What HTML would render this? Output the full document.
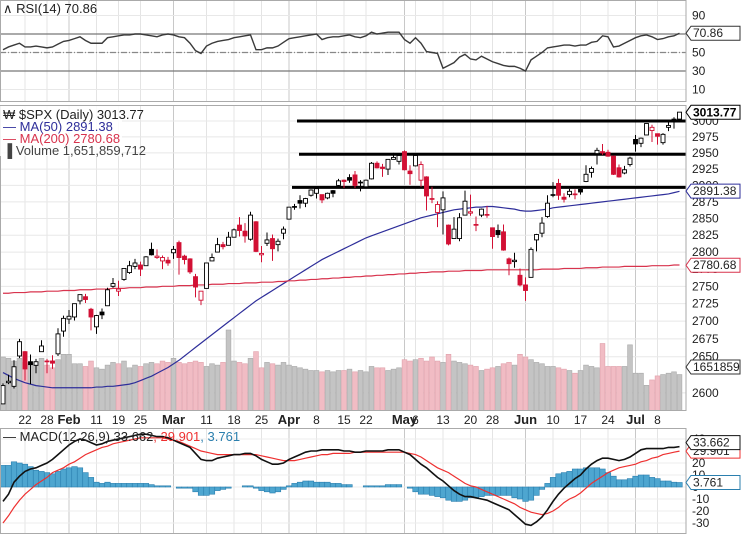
<!DOCTYPE html>
<html><head><meta charset="utf-8">
<style>
html,body{margin:0;padding:0;background:#fff;}
svg{display:block;font-family:"Liberation Sans",sans-serif;}
</style></head>
<body>
<svg id="chart" width="742" height="534" viewBox="0 0 742 534" xmlns="http://www.w3.org/2000/svg">
<defs>
<clipPath id="cRsi"><rect x="0" y="0" width="686" height="102"/></clipPath>
<clipPath id="cPx"><rect x="0" y="105" width="686" height="306"/></clipPath>
<clipPath id="cMacd"><rect x="0" y="428" width="686" height="106"/></clipPath>
</defs>
<rect x="0" y="0" width="742" height="534" fill="#fff"/>
<g id="grid"></g>
<g id="vol" clip-path="url(#cPx)"></g>
<g id="ma" clip-path="url(#cPx)"></g>
<g id="hlines"></g>
<g id="candles" clip-path="url(#cPx)"></g>
<g id="rsi" clip-path="url(#cRsi)"></g>
<g id="macd" clip-path="url(#cMacd)"></g>
<g id="axes"></g>
<g id="labels"></g>
</svg>
<script>
// ---- data ----
const opens = [2585,2614,2609,2651,2657,2643,2638,2657,2644,2644,2654,2686,
2703,2706,2729,2735,2717,2692,2713,2722,2750,2743,2760,2770,2779,2781,2780,2804,2792,2787,2788,
2799,2814,2794,2790,2764,2730,2747,2787,2800,2811,2810,2822,2840,2831,2819,2845,2796,2813,2820,2811,2828,
2849,2868,2877,2873,2885,2888,2886,2881,2892,2900,2908,2912,2916,2905,2898,2910,2934,2928,2925,2940,2937,
2952,2922,2930,2908,2913,2880,2859,2863,2840,2820,2820,2855,2858,2841,2855,2856,2836,2832,2830,2790,2786,2766,
2752,2763,2818,2828,2853,2886,2903,2882,2886,2887,2894,2906,2920,2949,2952,2951,2945,2927,2919,2932,
2971,2965,2978,2985,2980,2966,2990,3003,3003];
const highs = [2613,2625,2645,2675,2658,2653,2647,2673,2647,2652,2690,2708,
2716,2725,2738,2739,2719,2709,2718,2748,2762,2758,2776,2787,2790,2786,2794,2814,2804,2795,2793,
2809,2817,2796,2791,2768,2742,2784,2798,2821,2815,2830,2835,2852,2843,2860,2846,2809,2829,2826,2820,2838,
2867,2872,2885,2881,2894,2895,2886,2889,2893,2910,2909,2917,2922,2908,2909,2936,2937,2933,2940,2950,2949,
2954,2931,2948,2937,2914,2898,2876,2891,2841,2852,2858,2892,2886,2853,2865,2869,2836,2841,2841,2792,2799,2776,
2763,2807,2827,2852,2885,2905,2910,2888,2895,2894,2898,2931,2929,2958,2964,2955,2946,2932,2930,2944,
2978,2974,2996,2994,2980,2981,3002,3006,3014];
const lows = [2585,2612,2606,2648,2617,2612,2627,2657,2627,2633,2651,2678,
2696,2701,2724,2726,2687,2682,2703,2722,2748,2736,2758,2768,2775,2765,2780,2795,2790,2775,2780,
2790,2767,2782,2768,2734,2723,2747,2787,2800,2804,2810,2822,2823,2814,2817,2800,2785,2809,2787,2801,2819,
2849,2863,2865,2867,2883,2880,2873,2879,2882,2898,2896,2904,2896,2891,2896,2909,2926,2913,2916,2940,2932,
2923,2901,2929,2898,2862,2873,2837,2826,2810,2820,2816,2855,2854,2831,2852,2851,2805,2821,2802,2766,2777,2750,
2729,2763,2801,2822,2851,2882,2878,2874,2882,2879,2886,2905,2912,2932,2947,2944,2916,2912,2917,2929,
2952,2959,2978,2967,2963,2963,2984,2988,3001];
const closes = [2610,2616,2636,2671,2633,2639,2643,2665,2644,2641,2682,2704,
2707,2725,2738,2731,2706,2708,2709,2745,2754,2746,2776,2780,2784,2775,2793,2796,2794,2792,2784,
2804,2792,2789,2771,2749,2743,2784,2792,2811,2808,2822,2833,2832,2824,2855,2801,2798,2818,2805,2816,2834,
2867,2867,2873,2880,2893,2895,2878,2888,2888,2907,2906,2908,2900,2905,2908,2934,2927,2926,2940,2943,2946,
2924,2918,2946,2932,2884,2880,2871,2881,2812,2834,2851,2876,2860,2840,2864,2856,2823,2826,2803,2783,2788,2752,
2744,2804,2826,2843,2873,2886,2885,2879,2891,2887,2890,2917,2926,2954,2950,2945,2917,2913,2924,2942,
2964,2973,2996,2990,2976,2979,2993,2999,3014];
const volumes = [4000,3900,3700,3900,3600,3500,3400,3900,3400,3200,3800,4200,
4200,3500,3500,3300,3700,3200,3100,3400,3600,3500,3700,3200,3400,3300,3500,3600,3500,3700,3600,
3900,3600,3500,3600,3700,3600,3300,3500,3400,3600,6000,3700,3600,3500,3900,4400,3200,3600,3500,3400,3600,
3400,3300,3200,3100,3000,3000,2900,3000,2900,3000,3000,3100,2900,3000,2900,3300,3200,3200,3000,3100,3200,
3800,3700,3800,3900,3700,4000,3700,3600,4200,3700,3600,3500,3400,3300,3000,3100,3200,3300,3500,3600,3400,4200,
4000,3800,3600,3500,3300,3300,3200,3100,3000,2800,3000,3400,3300,3200,5000,3300,3300,3300,3300,4900,
2800,2800,1900,2300,2600,2700,2800,2900,2700];
const ma50 = [2628,2624,2620,2617,2614,2612,2610,2609,2608,2607,
2607,2607,2607,2607,2607,2607,2607,2608,2608,2609,
2609,2610,2611,2612,2614,2617,2620,2623,2627,2631,
2635,2640,2645,2651,2657,2663,2669,2675,2681,2687,
2693,2699,2705,2711,2717,2723,2729,2734,2739,2744,
2749,2754,2759,2764,2769,2774,2779,2784,2789,2793,
2797,2801,2805,2809,2813,2817,2821,2824,2827,2830,
2833,2836,2839,2842,2845,2848,2851,2853,2855,2857,
2859,2861,2863,2864,2865,2866,2867,2867,2868,2868,
2867,2866,2865,2864,2862,2861,2861,2862,2863,2864,
2866,2867,2868,2869,2870,2871,2872,2873,2874,2875,
2876,2877,2878,2879,2880,2881,2882,2883,2884,2885,
2886,2887,2889,2891];
const ma200 = [2740,2740,2741,2741,2741,2742,2742,2742,2743,2743,2743,2744,
2744,2744,2745,2745,2745,2746,2746,2746,2747,2747,2747,2748,2748,2748,2749,2749,2749,2750,2750,
2750,2751,2751,2751,2752,2752,2752,2753,2753,2753,2754,2754,2754,2755,2755,2755,2756,2756,2756,2757,2757,
2758,2758,2759,2759,2760,2760,2761,2761,2762,2762,2763,2763,2764,2764,2765,2765,2766,2766,2767,2767,2768,
2768,2769,2769,2770,2770,2771,2771,2771,2772,2772,2772,2773,2773,2773,2773,2774,2774,2774,2774,2774,2774,2774,
2774,2774,2774,2775,2775,2775,2775,2776,2776,2776,2776,2777,2777,2777,2778,2778,2778,2778,2779,2779,
2779,2779,2779,2780,2780,2780,2780,2781,2781];
const rsiVals = [53,56,58,60,56,56,57,56,55,56,
59,62,63,65,67,63,60,60,60,66,
67,68,69,69,70,70,69,68,67,69,
70,69,67,66,60,52,49,57,60,62,
63,64,66,67,68,69,53,53,55,55,
57,61,65,66,67,68,69,70,64,66,
67,67,68,69,67,66,68,72,70,71,
72,72,72,64,60,66,60,51,50,49,
33,36,39,45,48,43,42,46,43,40,
38,36,35,35,33,30,42,46,50,55,
56,57,58,58,57,58,58,61,62,68,
67,56,57,60,63,66,68,69,67,64,
65,67,68,70.86];
const macdVals = [-12,-6,4,9,13,15,16,18,20,23,
27,31,35,38,40,39,37,35,36,38,
39,40,41,42,43,44,44,43,42,42,
41,39,37,35,33,28,23,22,22,24,
25,26,27,27,28,28,26,23,21,19,
19,20,23,25,27,29,30,30,31,31,
31,31,30,30,29,29,30,30,30,30,
31,31,31,29,27,23,19,16,12,8,
5,1,-3,-6,-8,-8,-9,-10,-11,-13,
-15,-17,-19,-23,-27,-31,-32,-29,-25,-19,
-12,-6,-1,3,7,10,15,19,22,24,
24,23,22,23,25,28,31,32,32,32,
32,33,33,33.662];
const signalVals = [-30,-24,-17,-11,-6,-2,2,5,8,12,
14,16,19,21,24,27,29,31,33,34,
36,37,38,39,40,41,41,41,41,41,
40,39,38,36,34,32,30,29,28,27,
27,27,27,27,27,27,27,26,25,24,
23,22,22,22,23,24,25,26,27,27,
28,28,28,28,29,29,29,29,29,29,
29,29,29,29,28,27,25,22,19,16,
14,12,9,6,3,1,0,-2,-4,-6,
-8,-10,-12,-14,-17,-19,-21,-22,-23,-22,
-20,-17,-13,-10,-8,-5,-1,3,6,9,
12,14,16,17,18,19,21,22,24,25,
27,28,29,29.901];
const tickIdx = [4,8,12,17,21,25,31,37,42,47,52,57,62,66,73,75,80,85,89,95,100,105,110,115,119];
const tickLabels = ["22","28","Feb","11","19","25","Mar","11","18","25","Apr","8","15","22","May","6","13","20","28","Jun","10","17","24","Jul","8"];
const priceTicks = [3000,2975,2950,2925,2900,2875,2850,2825,2800,2775,2750,2725,2700,2675,2650,2600];
const rsiTicks = [90,70,50,30,10];
const macdTicks = [40,20,10,0,-10,-20,-30];
const resistance = [3000,2948,2897];

// ---- scales ----
const NS = "http://www.w3.org/2000/svg";
const PR = 686;
const xOf = i => 3 + i * 5.5;
const yP = p => 121 + 1900 * Math.log(3000 / p);
const yR = v => 34 + (70 - v) * 0.925;
const yM = v => 487 - v * 1.2;
const yV = v => 411 - v * 0.0135;
function mk(tag, attrs, parent) {
  const e = document.createElementNS(NS, tag);
  for (const k in attrs) e.setAttribute(k, attrs[k]);
  if (parent) parent.appendChild(e);
  return e;
}
const G = id => document.getElementById(id);

// ---- grid ----
const grid = G('grid');
[[0,102],[105,411],[428,534]].forEach(([a,b]) => {
  tickIdx.forEach((ti, k) => {
    const month = isNaN(+tickLabels[k]);
    const l = mk('line', {x1: xOf(ti), x2: xOf(ti), y1: a, y2: b, stroke: month ? '#c8c8c8' : '#e4e4e4', 'stroke-width': 1}, grid);
    
    
  });
});
priceTicks.forEach(p => {
  const l = mk('line', {x1: 0, x2: PR, y1: yP(p), y2: yP(p), stroke: '#e8e8e8'}, grid);
  
  
});
rsiTicks.forEach(v => {
  const l = mk('line', {x1: 0, x2: PR, y1: yR(v), y2: yR(v), stroke: '#e8e8e8'}, grid);
  
  
});
macdTicks.forEach(v => {
  const l = mk('line', {x1: 0, x2: PR, y1: yM(v), y2: yM(v), stroke: '#ececec'}, grid);
  
  
});

// ---- volume ----
const vol = G('vol');
volumes.forEach((v, i) => {
  const down = i > 0 && closes[i] < closes[i-1];
  const r = mk('rect', {x: xOf(i) - 2.4, y: yV(v), width: 4.8, height: 411 - yV(v), fill: down ? '#f1bcc4' : '#c4c4c4', stroke: down ? '#e0a0aa' : '#a8a8a8', 'stroke-width': 0.6}, vol);
  
  
});

// ---- moving averages ----
const ma = G('ma');
const m50 = mk('polyline', {points: ma50.map((v,i)=>xOf(i)+','+yP(v)).join(' '), fill: 'none', stroke: '#2e2e9a', 'stroke-width': 1.2}, ma);


const m200 = mk('polyline', {points: ma200.map((v,i)=>xOf(i)+','+yP(v)).join(' '), fill: 'none', stroke: '#d8334d', 'stroke-width': 1.2}, ma);



// ---- resistance lines ----
const hl = G('hlines');
[[297],[299],[292]].forEach((s, k) => {
  const l = mk('line', {x1: s[0], x2: PR, y1: yP(resistance[k]), y2: yP(resistance[k]), stroke: '#000', 'stroke-width': 3}, hl);
  
  
});

// ---- candles ----
const cg = G('candles');
closes.forEach((c, i) => {
  const o = opens[i], x = xOf(i);
  const down = i > 0 && c < closes[i-1];
  const col = down ? '#d21034' : '#000';
  const g = mk('g', {}, cg);
  
  
  mk('line', {x1: x, x2: x, y1: yP(highs[i]), y2: yP(lows[i]), stroke: col, 'stroke-width': 1}, g);
  const top = yP(Math.max(o, c)), bot = yP(Math.min(o, c));
  mk('rect', {x: x - 2, y: top, width: 4, height: Math.max(bot - top, 0.8), fill: c < o ? col : '#fff', stroke: col, 'stroke-width': 0.9}, g);
});

// ---- RSI ----
const rg = G('rsi');
[[70,'#777',''],[30,'#777',''],[50,'#888','6,2,1,2']].forEach(([v,c,d]) => {
  const l = mk('line', {x1: 0, x2: PR, y1: yR(v), y2: yR(v), stroke: c, 'stroke-width': 1.2, 'stroke-dasharray': d}, rg);
  
  
});
const rl = mk('polyline', {points: rsiVals.map((v,i)=>xOf(i)+','+yR(v)).join(' '), fill: 'none', stroke: '#3a3a3a', 'stroke-width': 1.4}, rg);



// ---- MACD ----
const mg = G('macd');
macdVals.forEach((v, i) => {
  const h = v - signalVals[i];
  const y0 = yM(0), y1 = yM(h);
  const r = mk('rect', {x: xOf(i) - 2.75, y: Math.min(y0, y1), width: 5.5, height: Math.abs(y1 - y0), fill: '#4ea6d0', stroke: '#2b7fae', 'stroke-width': 0.6}, mg);
  
  
});
const sl = mk('polyline', {points: signalVals.map((v,i)=>xOf(i)+','+yM(v)).join(' '), fill: 'none', stroke: '#ee3030', 'stroke-width': 1.2}, mg);


const ml = mk('polyline', {points: macdVals.map((v,i)=>xOf(i)+','+yM(v)).join(' '), fill: 'none', stroke: '#111', 'stroke-width': 1.6}, mg);



// ---- axes, frames ----
const ax = G('axes');
[[0,102],[105,411],[428,534]].forEach(([a,b]) => {
  const r = mk('rect', {x: 0.5, y: a + 0.5, width: PR - 0.5, height: b - a - 1, fill: 'none', stroke: '#aaa', 'stroke-width': 1}, ax);
  
  
});
function txt(parent, x, y, s, attrs) {
  const t = mk('text', Object.assign({x: x, y: y, 'font-size': 12, fill: '#222'}, attrs || {}), parent);
  t.textContent = s;
  return t;
}
priceTicks.forEach(p => {
  const t = txt(ax, 692, yP(p) + 4, String(p));
  
  
});
rsiTicks.forEach(v => {
  const t = txt(ax, 692, yR(v) + 4, String(v));
  
  
});
macdTicks.forEach(v => {
  const t = txt(ax, 692, yM(v) + 4, String(v));
  
  
});
tickIdx.forEach((ti, k) => {
  const month = isNaN(+tickLabels[k]);
  const t = txt(ax, xOf(ti), 424, tickLabels[k], {'text-anchor': 'middle', 'font-weight': month ? 'bold' : 'normal', 'font-size': month ? 13 : 12});
  
  
});

// ---- value tags ----
function tag(y, s, border, color, bold, name) {
  const g = mk('g', {}, ax);
  
  
  mk('path', {d: `M686,${y} L691,${y-7} L740,${y-7} L740,${y+7} L691,${y+7} Z`, fill: '#fff', stroke: border, 'stroke-width': 1}, g);
  txt(g, 693, y + 4, s, {fill: color, 'font-weight': bold ? 'bold' : 'normal', 'font-size': 12});
}
tag(yR(70.86), '70.86', '#333', '#222', false, 'rsi-value-tag');
tag(yP(3013.77), '3013.77', '#000', '#000', true, 'price-value-tag');
tag(yP(2891.38), '2891.38', '#2e2e9a', '#222', false, 'ma50-value-tag');
tag(yP(2780.68), '2780.68', '#d8334d', '#222', false, 'ma200-value-tag');
tag(367, '1651859', '#333', '#222', false, 'volume-value-tag');
tag(yM(29.901), '29.901', '#ee3030', '#222', false, 'signal-value-tag');
tag(yM(33.662)-4, '33.662', '#111', '#222', false, 'macd-value-tag');
tag(yM(3.761), '3.761', '#2b7fae', '#222', false, 'histogram-value-tag');

// ---- legends ----
const lb = G('labels');
function leg(x, y, s, color, name) {
  const t = txt(lb, x, y, s, {fill: color, 'font-size': 13});
  
  
  return t;
}
leg(3, 13, '\u2227 RSI(14) 70.86', '#222', 'rsi-legend');
mk('rect', {x: 0, y: 106, width: 122, height: 50, fill: '#fff', opacity: 0.85}, lb);
leg(3, 119, '\u20a9 $SPX (Daily) 3013.77', '#222', 'price-legend');
leg(3, 131, '\u2014 MA(50) 2891.38', '#2e2e9a', 'ma50-legend');
leg(3, 143, '\u2014 MA(200) 2780.68', '#d8334d', 'ma200-legend');
leg(3, 155, '\u2590 Volume 1,651,859,712', '#444', 'volume-legend');
const ml2 = txt(lb, 3, 441, '', {'font-size': 13});


[['\u2014 MACD(12,26,9) 33.662', '#222'], [', 29.901', '#ee3030'], [', 3.761', '#2b7fae']].forEach(([s,c]) => {
  const ts = mk('tspan', {fill: c}, ml2);
  ts.textContent = s;
});
</script>
</body></html>
